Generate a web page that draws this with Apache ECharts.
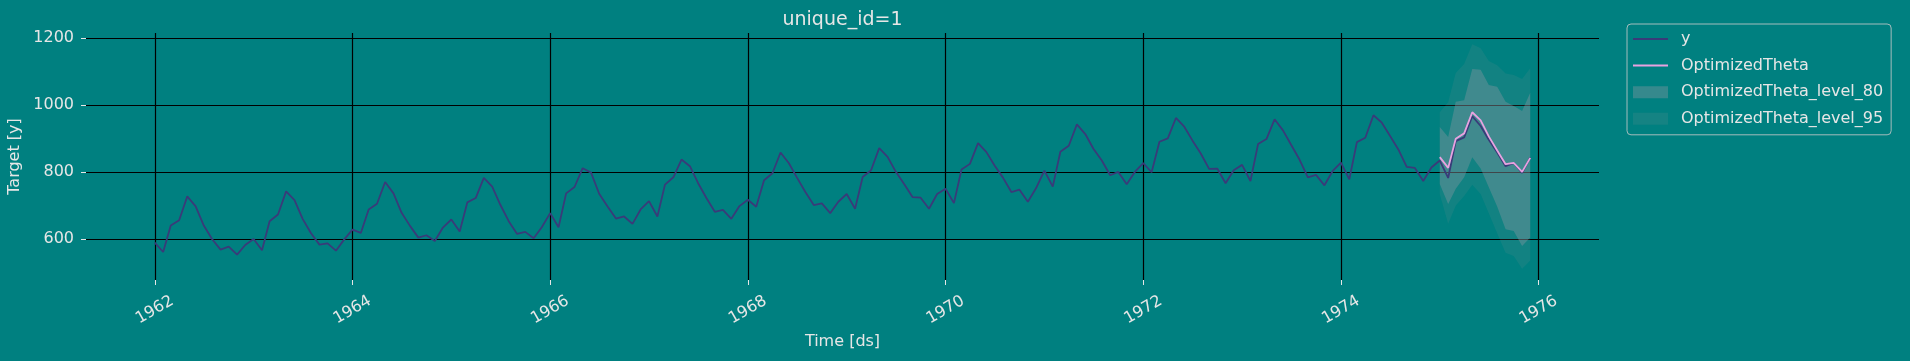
<!DOCTYPE html>
<html>
<head>
<meta charset="utf-8">
<script src="https://cdn.jsdelivr.net/npm/echarts@6/dist/echarts.min.js"></script>
<style>
html,body{margin:0;padding:0;background:#008080;}
#chart{width:1910px;height:361px;}
</style>
</head>
<body>
<div id="chart"></div>
<script>
// Monthly observations, Jan 1962 .. Dec 1975
const startYear = 1962;
const yValues = [
  589,561,640,656,727,697,640,599,568,577,553,582,
  600,566,653,673,742,716,660,617,583,587,565,598,
  628,618,688,705,770,736,678,639,604,611,594,634,
  658,622,709,722,782,756,702,653,615,621,602,635,
  677,635,736,755,811,798,735,697,661,667,645,688,
  713,667,762,784,837,817,767,722,681,687,660,698,
  717,696,775,796,858,826,783,740,701,706,677,711,
  734,690,785,805,871,845,801,764,725,723,690,734,
  750,707,807,824,886,859,819,783,740,747,711,751,
  804,756,860,878,942,913,869,834,790,800,763,800,
  826,799,890,900,961,935,894,855,809,810,766,805,
  821,773,883,898,957,924,881,837,784,791,760,802,
  828,778,889,902,969,947,908,867,815,812,773,813,
  834,782,892,903,966,937,896,858,817,827,797,843
];
// Forecast horizon: Jan 1975 .. Dec 1975
const fcStartIndex = 156;
const fcValues = [844,812,899,915,978,954,906,864,823,827,800,842];
const lo80 = [764,704,750,784,844,810,754,697,629,624,579,604];
const hi80 = [934,904,1009,1014,1107,1105,1059,1054,1009,997,982,1036];
const lo95 = [734,645,700,728,762,734,677,617,559,549,511,536];
const hi95 = [978,1008,1095,1122,1181,1169,1131,1118,1094,1089,1077,1109];
const xTickYears = [1962,1964,1966,1968,1970,1972,1974,1976];
const yTickValues = [600,800,1000,1200];
const legendNames = ['y','OptimizedTheta','OptimizedTheta_level_80','OptimizedTheta_level_95'];

// month index -> decimal year (position on a continuous date scale)
const decYear = (i) => {
  const y = startYear + Math.floor(i / 12);
  const t = Date.UTC(y, i % 12, 1);
  const a = Date.UTC(y, 0, 1), b = Date.UTC(y + 1, 0, 1);
  return y + (t - a) / (b - a);
};
const dates = yValues.map((_, i) => decYear(i));
const fcDates = fcValues.map((_, i) => decYear(fcStartIndex + i));
const pair = (d, v) => d.map((t, i) => [t, v[i]]);
const triple = (d, lo, hi) => d.map((t, i) => [t, lo[i], hi[i]]);

const xFirst = dates[0], xLast = dates[dates.length - 1];
const xSpan = xLast - xFirst;
const xMin = xFirst - 0.05 * xSpan, xMax = xLast + 0.05 * xSpan;
const allY = yValues.concat(fcValues, lo80, hi80, lo95, hi95);
const yLo = Math.min(...allY), yHi = Math.max(...allY);
const yMin = yLo - 0.05 * (yHi - yLo), yMax = yHi + 0.05 * (yHi - yLo);

const TXT = '#e6e6e6';
const FONT = 'DejaVu Sans';
const C80 = 'rgba(135,150,160,0.40)';
const C95 = 'rgba(150,150,150,0.12)';

function bandRenderer(fill) {
  return function (params, api) {
    if (params.dataIndexInside !== 0) return null;
    const n = params.dataInsideLength;
    const top = [], bot = [];
    for (let i = 0; i < n; i++) {
      top.push(api.coord([api.value(0, i), api.value(2, i)]));
      bot.push(api.coord([api.value(0, i), api.value(1, i)]));
    }
    return {type: 'polygon', shape: {points: top.concat(bot.reverse())}, style: {fill: fill}};
  };
}

const chart = echarts.init(document.getElementById('chart'), null, {renderer: 'canvas'});
chart.setOption({
  backgroundColor: '#008080',
  animation: false,
  title: {
    text: 'unique_id=1',
    left: 842.5, top: 11, padding: 0, textAlign: 'center',
    textStyle: {color: TXT, fontSize: 19, fontWeight: 'normal', fontFamily: FONT}
  },
  legend: {
    orient: 'vertical', left: 1627, top: 24,
    padding: [7, 8, 8, 5],
    itemWidth: 35, itemHeight: 12, itemGap: 10.6,
    borderColor: 'rgba(204,204,204,0.8)', borderWidth: 1, borderRadius: 4,
    backgroundColor: 'rgba(0,128,128,0.8)',
    textStyle: {color: TXT, fontSize: 16, fontFamily: FONT, padding: [0, 0, 0, 8]},
    data: [
      {name: legendNames[0], itemStyle: {opacity: 0}},
      {name: legendNames[1], itemStyle: {opacity: 0}},
      {name: legendNames[2], icon: 'rect', itemStyle: {color: C80}},
      {name: legendNames[3], icon: 'rect', itemStyle: {color: 'rgba(150,150,150,0.14)'}}
    ]
  },
  grid: {left: 86, right: 311, top: 33, bottom: 81, containLabel: false, outerBoundsMode: 'none'},
  xAxis: {
    type: 'value', min: xMin, max: xMax,
    name: 'Time [ds]', nameLocation: 'middle', nameGap: 53,
    nameTextStyle: {color: TXT, fontSize: 16, fontFamily: FONT},
    axisLine: {show: false},
    axisTick: {show: true, length: 5, lineStyle: {color: TXT, width: 1}, customValues: xTickYears},
    axisLabel: {
      customValues: xTickYears,
      formatter: (v) => String(Math.round(v)),
      rotate: 30, align: 'center', verticalAlign: 'middle', margin: 30,
      color: TXT, fontSize: 16, fontFamily: FONT
    },
    splitLine: {show: true, lineStyle: {color: '#000', width: 1.2}}
  },
  yAxis: {
    type: 'value', min: yMin, max: yMax,
    name: 'Target [y]', nameLocation: 'middle', nameGap: 58, nameRotate: 90,
    nameTextStyle: {color: TXT, fontSize: 16, fontFamily: FONT},
    axisLine: {show: false},
    axisTick: {show: true, length: 5, lineStyle: {color: TXT, width: 1}, customValues: yTickValues},
    axisLabel: {customValues: yTickValues, formatter: (v) => String(v), margin: 12,
      color: TXT, fontSize: 16, fontFamily: FONT},
    splitLine: {show: true, lineStyle: {color: '#000', width: 1.2}}
  },
  series: [
    {name: legendNames[3], type: 'custom', data: triple(fcDates, lo95, hi95),
     encode: {x: 0, y: [1, 2]}, renderItem: bandRenderer(C95), color: C95, z: 1},
    {name: legendNames[2], type: 'custom', data: triple(fcDates, lo80, hi80),
     encode: {x: 0, y: [1, 2]}, renderItem: bandRenderer(C80), color: C80, z: 2},
    {name: legendNames[0], type: 'line', data: pair(dates, yValues), symbol: 'none',
     color: '#393b79', lineStyle: {width: 1.8, color: '#393b79'}, z: 3},
    {name: legendNames[1], type: 'line', data: pair(fcDates, fcValues), symbol: 'none',
     color: '#e8a2e0', lineStyle: {width: 1.8, color: '#e8a2e0'}, z: 4}
  ]
});
</script>
</body>
</html>
